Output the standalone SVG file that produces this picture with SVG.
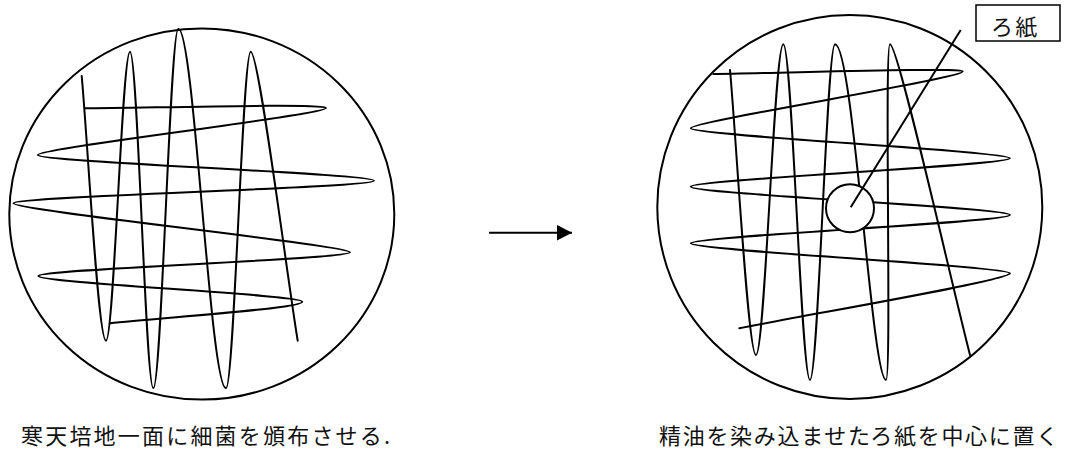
<svg xmlns="http://www.w3.org/2000/svg" width="1065" height="450" viewBox="0 0 1065 450">
  <style>
    .dish { fill: none; stroke: #000; stroke-width: 2; }
    .streak { fill: none; stroke: #000; stroke-width: 2; stroke-linecap: round; stroke-linejoin: round; }
    .paper { fill: #fff; stroke: #000; stroke-width: 2; }
    .conn { fill: none; stroke: #000; stroke-width: 2; }
    .tag { fill: #fff; stroke: #000; stroke-width: 1.5; }
    .txt { font-family: "Noto Sans CJK JP", "Noto Sans", sans-serif; font-size: 22px; fill: #111; letter-spacing: 2.2px; }
    .txt.tight { letter-spacing: 1.7px; }
  </style>
  <defs>
    <marker id="arrowhead" markerWidth="16" markerHeight="16" refX="15" refY="8" orient="auto" markerUnits="userSpaceOnUse">
      <path d="M0,0.2 L15,8 L0,15.8 Z" fill="#000"/>
    </marker>
  </defs>

  <rect width="1065" height="450" fill="#fff"/>

  <!-- agar plate with bacteria streaked over the whole surface -->
  <g id="plate-before">
    <ellipse class="dish" cx="201.8" cy="214" rx="192.5" ry="185.6"/>
    <path class="streak" d="M81.7,76 C87.8,142.2 98,340.7 106,340.7
      C114,340.7 122,51.7 130,51.7
      C137.8,51.7 145.5,388.3 153.3,388.3
      C161.6,388.3 170,28.7 178.3,28.7
      C194.2,28.7 210.1,388.3 226,388.3
      C234.2,388.3 242.5,51.7 250.7,51.7
      C258.9,51.7 285.9,268.5 297.7,340.7"/>
    <path class="streak" d="M85,108.3 C145,108 326,103 326,108
      C326,115 37.7,148 37.7,155
      C37.7,162 374,173.7 374,180.7
      C374,187.7 13.3,196.3 13.3,203.3
      C13.3,210.3 350,245.3 350,252.3
      C350,259.3 38.3,269 38.3,276
      C38.3,283 302.3,294.7 302.3,301.7
      C302.3,308.7 158,317.9 110,323.3"/>
    <text class="txt" x="21" y="444">寒天培地一面に細菌を頒布させる.</text>
  </g>

  <!-- same plate with an oil-soaked filter paper disc in the centre -->
  <g id="plate-after">
    <ellipse class="dish" cx="849.8" cy="207" rx="192.5" ry="192"/>
    <path class="streak" d="M730,70 C736.5,141.3 748,355 756,355
      C765,355 774.2,44.3 783.3,44.3
      C792.2,44.3 801.1,380 810,380
      C818.3,380 826.7,44.3 835,44.3
      C853.3,44.3 871.7,380 886,380
      C892,380 884,44.3 890,44.3
      C898,44.3 950,277.3 970,355"/>
    <path class="streak" d="M713.3,74 C775,73.5 962.7,67 962.7,71.5
      C962.7,78.5 690.7,121.3 690.7,128.3
      C690.7,135.3 1010,151.3 1010,158.3
      C1010,165.3 690.7,179.7 690.7,186.7
      C690.7,193.7 1010,208 1010,215
      C1010,222 690.7,236.3 690.7,243.3
      C690.7,250.3 1010,266.3 1010,273.3
      C1010,280.3 807,314.6 739.3,328.3"/>
    <text class="txt tight" x="659" y="444">精油を染み込ませたろ紙を中心に置く</text>
  </g>

  <g id="filter-paper">
    <circle class="paper" cx="850" cy="208.3" r="24"/>
  </g>

  <g id="label-filter-paper">
    <rect class="tag" x="976" y="5" width="84" height="36"/>
    <text class="txt" x="991" y="35">ろ紙</text>
  </g>

  <g id="connectors">
    <line class="conn" x1="489" y1="232.7" x2="572" y2="232.7" marker-end="url(#arrowhead)"/>
    <line class="conn" x1="850.7" y1="207.3" x2="960.7" y2="30"/>
  </g>
</svg>
